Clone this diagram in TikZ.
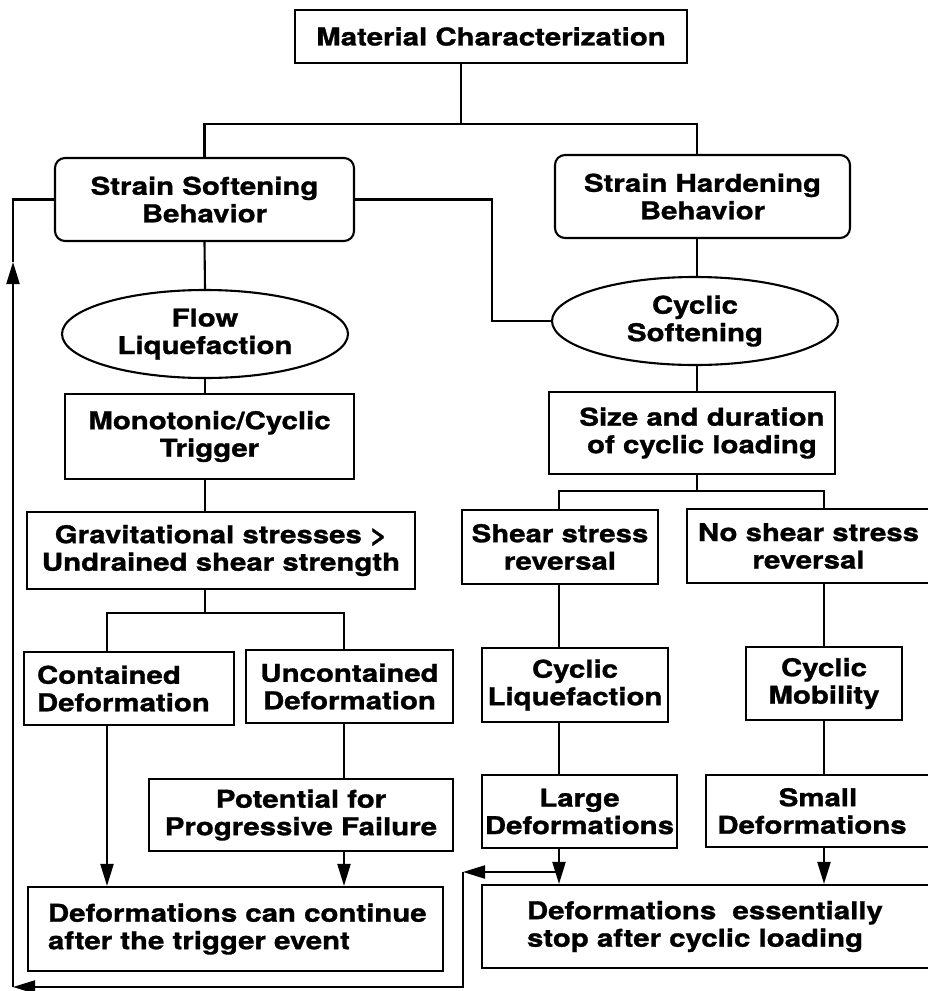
\documentclass[tikz,border=0pt]{standalone}
\usepackage{fontspec}
\newfontfamily\hv[FakeStretch=1.2,FakeBold=1.2]{TeX Gyre Heros}
\usetikzlibrary{shapes.geometric,arrows.meta}
\begin{document}
\begin{tikzpicture}[x=1pt,y=-1pt,line width=2.1pt,
  every node/.style={font={\hv\bfseries\fontsize{24.5pt}{27.5pt}\selectfont},inner sep=0pt,align=center},
  box/.style={draw,rectangle},
  rbox/.style={draw,rectangle,rounded corners=10pt},
  oval/.style={draw,ellipse},
  lbox/.style={draw,rectangle,align=left},
  arr/.style={-{Triangle[length=22pt,width=13pt]}}]
\useasboundingbox (0,0) rectangle (927,991);
% nodes
\node[box,minimum width=392pt,minimum height=53pt] (mc) at (491,36.5) {Material Characterization};
\node[rbox,minimum width=299pt,minimum height=83pt] (ss) at (204.5,199.5) {Strain Softening\\Behavior};
\node[rbox,minimum width=295pt,minimum height=83pt] (sh) at (702.5,196.5) {Strain Hardening\\Behavior};
\node[oval,minimum width=286pt,minimum height=88pt] (fl) at (205,334) {Flow\\Liquefaction};
\node[oval,minimum width=286pt,minimum height=88pt] (cs) at (695,321) {Cyclic\\Softening};
\node[box,minimum width=289pt,minimum height=85pt] (mt) at (209.5,436.5) {Monotonic/Cyclic\\Trigger};
\node[box,minimum width=388pt,minimum height=77pt] (gs) at (221,550.5) {Gravitational stresses >\\Undrained shear strength};
\node[lbox,inner xsep=13pt,text width=184pt,minimum height=73pt] (cd) at (129,688.5) {\mbox{Contained}\\\mbox{Deformation}};
\node[box,minimum width=207pt,minimum height=73pt] (ud) at (349.5,686.5) {Uncontained\\Deformation};
\node[box,minimum width=304pt,minimum height=72pt] (pf) at (301,815) {Potential for\\Progressive Failure};
\node[lbox,inner xsep=20pt,text width=375pt,minimum height=84pt] (dc) at (235.5,929) {\mbox{Deformations can continue}\\\mbox{after the trigger event}};
\node[box,minimum width=286pt,minimum height=82pt] (sz) at (692,433) {\hspace*{20pt}Size and duration\\\hspace*{20pt}of cyclic loading};
\node[box,minimum width=196pt,minimum height=74pt] (sr) at (560,547) {Shear stress\\reversal};
\node[box,minimum width=243pt,minimum height=74pt] (ns) at (808.5,546) {No shear stress\\reversal};
\node[box,minimum width=186pt,minimum height=74pt] (cl) at (575,685) {Cyclic\\Liquefaction};
\node[box,minimum width=156pt,minimum height=73pt] (cm) at (824,683.5) {Cyclic\\Mobility};
\node[box,minimum width=195pt,minimum height=73pt] (ld) at (579.5,811.5) {Large\\Deformations};
\node[box,minimum width=224pt,minimum height=72pt] (sd) at (818,811) {Small\\Deformations\hspace*{12pt}};
\node[lbox,inner xsep=45pt,text width=358pt,minimum height=83pt] (de) at (706,926.5) {\mbox{Deformations~ essentially}\\\mbox{stop after cyclic loading}};
% junction coordinates
\coordinate (mcj) at (461,124);
\coordinate (hj) at (697,124);
\coordinate (cj) at (492,0);
\coordinate (gj) at (205,613);
\coordinate (cdx) at (107,0);
\coordinate (udx) at (344,0);
\coordinate (sj) at (697,491);
\coordinate (srx) at (559,0);
\coordinate (nsx) at (824,0);
\coordinate (fb1) at (559,872);
\coordinate (fb2) at (463,872);
\coordinate (fb3) at (463,987);
\coordinate (fb4) at (13,987);
\coordinate (fb5) at (13,262);
\coordinate (fbx) at (13,0);
% connectors
\draw (mc.south -| mcj) -- (mcj);
\draw (ss.north) |- (hj) -- (hj |- sh.north);
\draw (ss.east) -| (cj |- cs.west) -- (cs.west);
\draw (ss.south) -- (fl.north);
\draw (hj |- sh.south) -- (hj |- cs.north);
\draw (fl.south) -- (fl.south |- mt.north);
\draw (mt.south -| fl.south) -- (gs.north -| fl.south);
\draw (gs.south -| gj) -- (gj);
\draw (cdx |- cd.north) |- (gj) -| (udx |- ud.north);
\draw (ud.south -| udx) -- (pf.north -| udx);
\draw[arr] (cd.south -| cdx) -- (dc.north -| cdx);
\draw[arr] (pf.south -| udx) -- (dc.north -| udx);
\draw (cs.south -| hj) -- (sz.north -| hj);
\draw (sz.south -| sj) -- (sj);
\draw (srx |- sr.north) |- (sj) -| (nsx |- ns.north);
\draw (sr.south -| srx) -- (cl.north -| srx);
\draw (cl.south -| srx) -- (ld.north -| srx);
\draw[arr] (ld.south -| srx) -- (de.north -| srx);
\draw (ns.south -| nsx) -- (cm.north -| nsx);
\draw (cm.south -| nsx) -- (sd.north -| nsx);
\draw[arr] (sd.south -| nsx) -- (de.north -| nsx);
% feedback loop
\draw[arr] (fb1) -- (fb2);
\draw[arr] (fb2) -- (fb3) -- (fb4);
\draw[arr] (fb4) -- (fb5);
\draw (fb5) -- (fbx |- ss.west) -- (ss.west);
\end{tikzpicture}
\end{document}
